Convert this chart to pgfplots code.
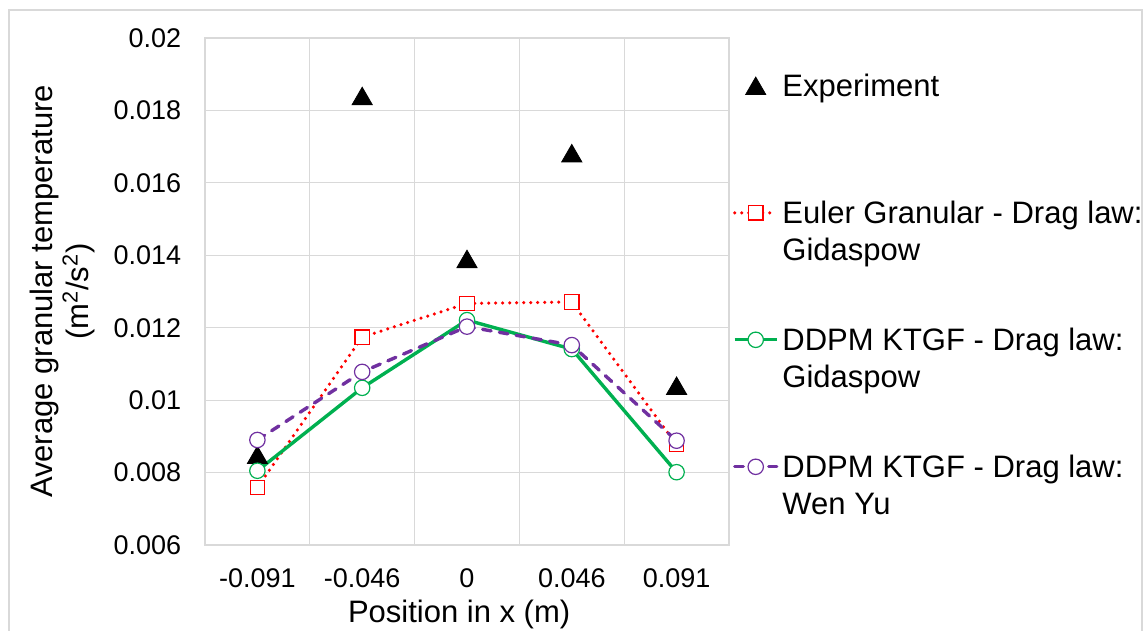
\documentclass[border=0pt]{standalone}
\usepackage{fontspec}
\setmainfont{Liberation Sans}
\usepackage{pgfplots}
\usepackage{pgfplotstable}
\pgfplotsset{compat=1.18}

\definecolor{gridgray}{HTML}{D9D9D9}
\definecolor{eulerred}{HTML}{FF0000}
\definecolor{ddpmgreen}{HTML}{00B050}
\definecolor{wenyupurple}{HTML}{7030A0}

% average granular temperature (m^2/s^2) at the five x positions
\pgfplotstableread{
pos  exp      euler    ddpmgid  ddpmwy
0    0.00849  0.00759  0.00805  0.00890
1    0.01840  0.01174  0.01034  0.01078
2    0.01390  0.01267  0.01221  0.01203
3    0.01682  0.01271  0.01141  0.01152
4    0.01040  0.00877  0.00801  0.00888
}\datatable

\newcommand{\twoline}[2]{\begin{tabular}[t]{@{}l@{}}#1\\#2\end{tabular}}

\begin{document}
\begin{tikzpicture}
\path[use as bounding box] (0,0) rectangle (573.5pt,315.5pt);
\draw[gridgray, line width=1pt] (4.25pt,-5pt) -- (4.25pt,310.5pt) -- (571pt,310.5pt) -- (571pt,-5pt);
\begin{axis}[
  at={(102.5pt,43pt)}, anchor=south west,
  scale only axis, width=262pt, height=253.5pt,
  xmin=-0.5, xmax=4.5, ymin=0.006, ymax=0.02,
  scaled y ticks=false,
  xtick={0,1,2,3,4},
  xticklabels={-0.091,-0.046,0,0.046,0.091},
  minor xtick={-0.5,0.5,1.5,2.5,3.5,4.5},
  ytick={0.006,0.008,0.010,0.012,0.014,0.016,0.018,0.020},
  yticklabels={0.006,0.008,0.01,0.012,0.014,0.016,0.018,0.02},
  xmajorgrids=false, xminorgrids=true, ymajorgrids=true,
  grid style={draw=gridgray, line width=0.6pt},
  minor grid style={draw=gridgray, line width=0.6pt},
  axis line style={draw=gridgray, line width=0.6pt},
  major tick length=0pt, minor tick length=0pt,
  tick style={draw=none},
  ticklabel style={font=\fontsize{13.5}{16}\selectfont},
  yticklabel style={anchor=east, inner sep=0pt, xshift=-11.75pt},
  xticklabel style={anchor=north, inner sep=0pt, yshift=-11.5pt},
  xlabel={Position in x (m)},
  xlabel style={at={(axis description cs:0.485,-0.1519)}, anchor=base,
    font=\fontsize{15.5}{18.5}\selectfont},
  ylabel={Average granular temperature\\(m\textsuperscript{2}/s\textsuperscript{2})},
  ylabel style={at={(axis description cs:-0.2729,0.5)}, anchor=center,
    align=center, font=\fontsize{15.5}{18}\selectfont},
  legend image code/.code={%
    \draw[mark repeat=2, mark phase=2]
      plot coordinates {(0pt,5.6pt) (10.5pt,5.6pt) (21pt,5.6pt)};},
  legend style={
    at={(axis description cs:1.00763,0.93097)}, anchor=north west,
    draw=none, fill=none, inner sep=0pt, outer sep=0pt,
    font=\fontsize{15.5}{18.5}\selectfont,
    row sep=29.5pt, column sep=2pt,
    nodes={inner sep=0pt, text height=12pt, text depth=22pt},
    cells={anchor=base west}},
]
\addplot[only marks, mark=triangle*, mark size=5.8pt, color=black,
  mark options={yshift=-1.45pt}]
  table[x=pos, y=exp] {\datatable};
\addlegendentry{Experiment}

\addplot[color=eulerred, line width=1.75pt, dash pattern=on 0pt off 3.5pt,
  line cap=round, mark=square*, mark size=3.6pt,
  mark options={solid, fill=white, line width=0.6pt, line cap=butt}]
  table[x=pos, y=euler] {\datatable};
\addlegendentry{\twoline{Euler Granular - Drag law:}{Gidaspow}}

\addplot[color=ddpmgreen, line width=1.7pt, mark=*, mark size=3.85pt,
  mark options={solid, fill=white, line width=0.6pt}]
  table[x=pos, y=ddpmgid] {\datatable};
\addlegendentry{\twoline{DDPM KTGF - Drag law:}{Gidaspow}}

\addplot[color=wenyupurple, line width=1.7pt, dash pattern=on 4.3pt off 4.2pt,
  line cap=round, mark=*, mark size=3.85pt,
  mark options={solid, fill=white, line width=0.6pt}]
  table[x=pos, y=ddpmwy] {\datatable};
\addlegendentry{\twoline{DDPM KTGF - Drag law:}{Wen Yu}}
\end{axis}
\end{tikzpicture}
\end{document}
